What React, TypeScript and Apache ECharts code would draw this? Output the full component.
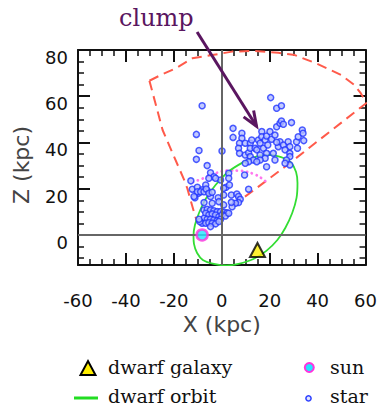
import React, { useEffect, useRef } from "react";
import * as echarts from "echarts";

// ---- axis ticks ----
const xMin = -60;
const xMax = 60;
const xStep = 20;
const zMin = -13;
const zMax = 80;
const zMajorTicks = [0, 20, 40, 60, 80];
const zMinorTicks = [-10, -5, 5, 10, 15, 25, 30, 35, 45, 50, 55, 65, 70, 75];

// ---- data (X, Z in kpc) ----
const stars: [number, number][] = [
  // outliers
  [-8.2, 55.9], [-10.6, 43.5], [-9.5, 36.5], [0.1, 36.3], [-10.6, 32.7], [-6.1, 30.0],
  [20.4, 59.4], [22.9, 54.8], [24.9, 55.9],
  // clump
  [4.7, 46.1], [4.7, 42.2], [8.4, 44.0], [8.4, 41.8], [7.4, 39.7], [9.8, 39.7], [7.0, 37.5],
  [7.4, 35.3], [9.8, 34.6], [11.2, 35.6], [11.9, 39.7], [12.5, 41.1], [11.9, 37.5], [13.9, 37.5],
  [15.3, 41.1], [16.0, 39.7], [16.7, 44.7], [16.7, 42.5], [18.1, 41.1], [18.7, 42.8], [20.1, 44.7],
  [20.8, 41.4], [22.2, 43.2], [22.9, 46.8], [24.3, 48.3], [24.9, 49.3], [25.7, 47.9], [29.1, 48.6],
  [14.6, 36.8], [17.4, 37.5], [18.7, 35.3], [21.5, 35.3], [23.6, 38.2], [24.3, 40.3], [25.7, 38.9],
  [27.7, 40.3], [28.4, 38.2], [26.4, 36.8], [28.4, 35.3], [28.4, 33.9], [31.2, 40.3], [31.9, 42.5],
  [33.6, 45.4], [33.9, 44.0], [34.2, 40.8], [11.9, 33.9], [16.0, 34.6], [13.2, 32.4], [18.1, 33.2],
  [16.0, 32.4], [22.2, 32.4], [11.2, 31.7], [14.6, 31.7], [27.0, 32.4], [28.4, 30.3], [26.4, 31.0],
  [18.7, 29.5], [19.2, 38.9], [22.9, 40.1], [31.6, 37.5], [9.8, 31.0], [9.5, 25.9], [2.9, 26.7],
  // middle
  [-4.7, 26.9], [-3.3, 25.2], [-0.5, 23.8], [2.9, 24.5], [-12.9, 23.4], [-12.3, 19.8], [-10.2, 20.6],
  [-8.2, 19.5], [-6.7, 21.6], [-6.1, 19.2], [-9.8, 18.0], [-11.2, 16.1], [-4.7, 16.6], [-1.5, 16.1],
  [-1.2, 14.4], [1.8, 20.6], [0.8, 17.3], [4.0, 17.3], [6.3, 17.7], [7.0, 16.6], [7.7, 15.4],
  [7.0, 14.0], [5.7, 13.7], [4.3, 12.2], [4.0, 14.1], [11.2, 19.8], [-5.4, 24.5], [-2.6, 24.5],
  [-10.2, 18.7], [-8.8, 18.7], [-7.4, 18.7], [-6.5, 19.9], [-5.4, 18.0], [-4.0, 18.5], [-11.6, 16.6],
  [-7.4, 14.0], [0.8, 20.2], [3.2, 21.6], [0.8, 13.0], [-4.0, 13.7], [-7.4, 10.8],
  // dense base
  [-6.1, 11.1], [-4.7, 10.8], [-3.3, 10.5], [-1.9, 10.1], [-0.5, 10.1], [0.8, 9.8], [2.2, 9.6],
  [-6.7, 9.4], [-5.4, 8.6], [-4.0, 9.1], [-2.6, 8.6], [-1.2, 7.9], [0.1, 8.6], [1.5, 8.2],
  [-7.4, 7.2], [-6.1, 6.8], [-4.7, 6.8], [-3.3, 6.5], [-1.9, 6.2], [-0.5, 6.8], [-8.2, 5.1],
  [-6.7, 5.1], [-5.4, 5.3], [-4.0, 5.1], [-2.6, 4.8], [-9.2, 5.8], [-4.7, 3.6], [-1.2, 5.8],
  [2.9, 9.4], [-9.5, 6.8],
];

const surveyWedge: [number, number][] = [
  [-30.2, 66.7], [-25.4, 69.2], [-19.2, 72.1], [-12.3, 76.4], [-4.0, 77.8], [4.3, 79.3],
  [13.2, 79.6], [23.6, 78.8], [30.5, 77.8], [39.4, 74.2], [49.8, 69.2], [55.3, 64.9],
  [58.0, 61.3], [60.4, 57.1], [26.4, 29.5], [12.5, 18.7], [2.9, 11.5], [-4.6, 4.3],
  [-10.3, 5.6], [-11.6, 9.9], [-14.4, 20.2], [-15.7, 23.8], [-24.7, 45.4], [-30.2, 66.7],
];

const dottedArc: [number, number][] = [
  [-12.0, 22.9], [-7.4, 24.6], [-2.6, 26.7], [2.9, 27.9], [8.3, 27.7], [13.2, 26.4],
  [16.5, 24.6], [18.6, 22.9],
];

const dwarfOrbit: [number, number][] = [
  [20.7, 34.6], [25.7, 33.3], [29.1, 31.1], [31.0, 27.2], [31.6, 22.5], [31.2, 16.0],
  [29.4, 9.5], [26.5, 3.0], [23.2, -2.2], [18.6, -6.9], [13.2, -10.4], [7.0, -12.5],
  [2.1, -13.2], [-3.3, -12.5], [-7.9, -10.8], [-10.3, -7.8], [-11.6, -3.9], [-11.8, -0.4],
  [-11.2, 4.3], [-9.5, 9.5], [-6.7, 15.6], [-2.6, 21.6], [2.1, 26.8], [7.0, 30.3],
  [12.4, 33.1], [16.5, 34.4], [20.7, 34.6],
];

const sunPos: [number, number][] = [[-8.2, 0]];
const dwarfPos: [number, number][] = [[14.9, -6.5]];

// annotation (data coords)
const clumpText = "clump";
const clumpTextPos: [number, number] = [-27.3, 94.0];
const arrowFrom: [number, number] = [-10.3, 87.8];
const arrowTo: [number, number] = [14.5, 47.0];

const SANS = '"DejaVu Sans", sans-serif';
const SERIF = '"DejaVu Serif", serif';
const INK = "#111";

export default function App() {
  const ref = useRef<HTMLDivElement>(null);

  useEffect(() => {
    document.body.style.margin = "0";
    const el = ref.current!;
    const chart = echarts.init(el, null, { renderer: "svg" });

    const xBase: any = {
      type: "value",
      min: xMin,
      max: xMax,
      interval: xStep,
      axisLine: { show: true, onZero: false, lineStyle: { color: INK, width: 2 } },
      axisTick: { show: true, inside: true, length: 12, lineStyle: { color: INK, width: 2 } },
      minorTick: { show: true, splitNumber: 4, length: 6, lineStyle: { color: INK, width: 1.5 } },
      splitLine: { show: false },
      minorSplitLine: { show: false },
    };
    const yBase: any = {
      type: "value",
      min: zMin,
      max: zMax,
      splitLine: { show: false },
    };
    const yLine = { show: true, onZero: false, lineStyle: { color: INK, width: 2 } };
    const yNoLine = { show: false, onZero: false };

    const option: any = {
      animation: false,
      backgroundColor: "#fff",
      grid: { left: 78, right: 12, top: 50, bottom: 145, containLabel: false },
      xAxis: [
        {
          ...xBase,
          position: "bottom",
          axisLabel: {
            show: true,
            margin: 26,
            fontSize: 18,
            fontFamily: SANS,
            color: INK,
          },
          name: "X (kpc)",
          nameLocation: "middle",
          nameGap: 47,
          nameTextStyle: { fontSize: 22, fontFamily: SANS, color: "#444" },
        },
        { ...xBase, position: "top", axisLabel: { show: false } },
      ],
      yAxis: [
        {
          ...yBase,
          position: "left",
          axisLine: yLine,
          axisTick: {
            show: true,
            inside: true,
            length: 12,
            customValues: zMajorTicks,
            lineStyle: { color: INK, width: 2 },
          },
          axisLabel: {
            show: true,
            customValues: zMajorTicks,
            margin: 10,
            fontSize: 18,
            fontFamily: SANS,
            color: INK,
            verticalAlign: "top",
            lineHeight: 15,
          },
          name: "Z (kpc)",
          nameLocation: "middle",
          nameGap: 46,
          nameTextStyle: { fontSize: 22, fontFamily: SANS, color: "#444", padding: [0, 15, 0, 0] },
        },
        {
          ...yBase,
          position: "left",
          axisLine: yNoLine,
          axisTick: {
            show: true,
            inside: true,
            length: 6,
            customValues: zMinorTicks,
            lineStyle: { color: INK, width: 1.5 },
          },
          axisLabel: { show: false },
        },
        {
          ...yBase,
          position: "right",
          axisLine: yLine,
          axisTick: {
            show: true,
            inside: true,
            length: 12,
            customValues: zMajorTicks,
            lineStyle: { color: INK, width: 2 },
          },
          axisLabel: { show: false },
        },
        {
          ...yBase,
          position: "right",
          axisLine: yNoLine,
          axisTick: {
            show: true,
            inside: true,
            length: 6,
            customValues: zMinorTicks,
            lineStyle: { color: INK, width: 1.5 },
          },
          axisLabel: { show: false },
        },
      ],
      series: [
        {
          name: "survey",
          type: "line",
          data: surveyWedge,
          symbol: "none",
          smooth: false,
          clip: true,
          lineStyle: { color: "#ff5a4a", width: 2, type: [10, 6] },
          silent: true,
          z: 2,
        },
        {
          name: "dotted",
          type: "line",
          data: dottedArc,
          symbol: "none",
          smooth: 0.4,
          lineStyle: { color: "#ff77ee", width: 2.8, type: [0.1, 5], cap: "round" },
          silent: true,
          z: 2,
        },
        {
          name: "dwarf orbit",
          type: "line",
          data: dwarfOrbit,
          symbol: "none",
          smooth: 0.35,
          clip: true,
          lineStyle: { color: "#33dd33", width: 1.8 },
          silent: true,
          z: 3,
        },
        {
          name: "star",
          type: "scatter",
          data: stars,
          symbol: "circle",
          symbolSize: 6,
          itemStyle: { color: "#b3bdff", borderColor: "#2035ff", borderWidth: 1.5 },
          z: 4,
          markLine: {
            silent: true,
            symbol: "none",
            label: { show: false },
            lineStyle: { color: "#666", width: 2, type: "solid" },
            data: [{ yAxis: 0 }, { xAxis: 0 }],
          },
        },
        {
          name: "sun",
          type: "scatter",
          data: sunPos,
          symbol: "circle",
          symbolSize: 11,
          itemStyle: { color: "#22e6ff", borderColor: "#ff33dd", borderWidth: 2.5 },
          z: 6,
        },
        {
          name: "dwarf galaxy",
          type: "scatter",
          data: dwarfPos,
          symbol: "triangle",
          symbolSize: [15, 14],
          itemStyle: { color: "#ffee00", borderColor: "#000", borderWidth: 2 },
          z: 6,
        },
      ],
    };

    chart.setOption(option);

    const toPx = (pt: [number, number]) =>
      chart.convertToPixel({ gridIndex: 0 } as any, pt) as number[];
    const s = toPx(arrowFrom);
    const e = toPx(arrowTo);
    const t = toPx(clumpTextPos);
    const dx = e[0] - s[0];
    const dy = e[1] - s[1];
    const L = Math.hypot(dx, dy);
    const ux = dx / L;
    const uy = dy / L;
    const head = 16;
    const ang = 0.38;
    const rot = (a: number) => [ux * Math.cos(a) - uy * Math.sin(a), ux * Math.sin(a) + uy * Math.cos(a)];
    const b1 = rot(ang);
    const b2 = rot(-ang);
    const arrowColor = "#5a1660";

    chart.setOption({
      graphic: [
        {
          type: "text",
          x: t[0],
          y: t[1],
          style: { text: clumpText, font: `24px ${SERIF}`, fill: arrowColor, align: "center", verticalAlign: "middle" },
          z: 10,
        },
        {
          type: "line",
          shape: { x1: s[0], y1: s[1], x2: e[0], y2: e[1] },
          style: { stroke: arrowColor, lineWidth: 3 },
          z: 10,
        },
        {
          type: "polyline",
          shape: {
            points: [
              [e[0] - b1[0] * head, e[1] - b1[1] * head],
              [e[0], e[1]],
              [e[0] - b2[0] * head, e[1] - b2[1] * head],
            ],
          },
          style: { stroke: arrowColor, lineWidth: 3, fill: "none" },
          z: 10,
        },
        // legend
        {
          type: "polygon",
          shape: { points: [[80.5, 375], [95.5, 375], [88, 361]] },
          style: { fill: "#ffee00", stroke: "#000", lineWidth: 2 },
        },
        {
          type: "text",
          x: 108,
          y: 367,
          style: { text: "dwarf galaxy", font: `19px ${SERIF}`, fill: INK, verticalAlign: "middle" },
        },
        {
          type: "line",
          shape: { x1: 74, y1: 398, x2: 98, y2: 398 },
          style: { stroke: "#22dd22", lineWidth: 3 },
        },
        {
          type: "text",
          x: 108,
          y: 396,
          style: { text: "dwarf orbit", font: `19px ${SERIF}`, fill: INK, verticalAlign: "middle" },
        },
        {
          type: "circle",
          shape: { cx: 309.3, cy: 367.5, r: 4.5 },
          style: { fill: "#22e6ff", stroke: "#ff33dd", lineWidth: 2 },
        },
        {
          type: "text",
          x: 330,
          y: 367,
          style: { text: "sun", font: `19px ${SERIF}`, fill: INK, verticalAlign: "middle" },
        },
        {
          type: "circle",
          shape: { cx: 308.5, cy: 398.3, r: 2.6 },
          style: { fill: "#e0e5ff", stroke: "#2a3dff", lineWidth: 1.5 },
        },
        {
          type: "text",
          x: 330,
          y: 396,
          style: { text: "star", font: `19px ${SERIF}`, fill: INK, verticalAlign: "middle" },
        },
      ],
    });

    return () => chart.dispose();
  }, []);

  return <div ref={ref} style={{ width: 380, height: 410 }} />;
}
